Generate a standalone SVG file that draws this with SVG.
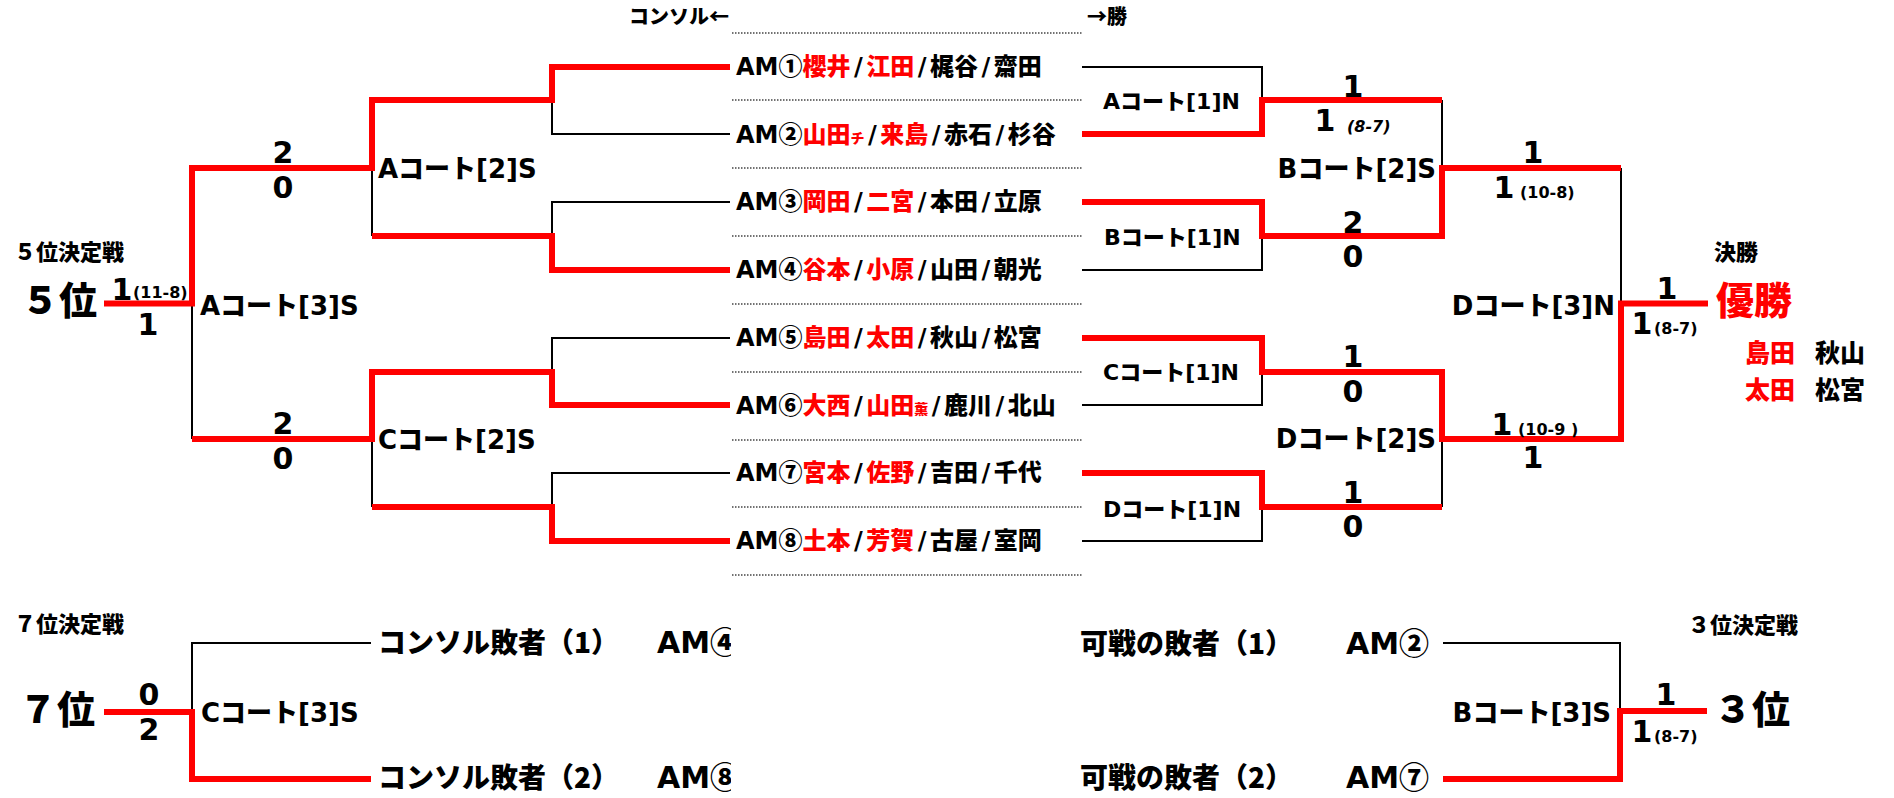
<svg xmlns="http://www.w3.org/2000/svg" width="1894" height="798" viewBox="0 0 1894 798">
<defs>
<style>
text{font-family:"DejaVu Sans","Noto Sans CJK JP",sans-serif;font-weight:900;fill:#000}
.j{font-family:"Noto Sans CJK JP",sans-serif}
.r{fill:#f00}
.lb{font-size:26px}
.ln{font-size:22px}
.sc{font-size:30px;text-anchor:middle}
.sm{font-size:16px}
.it{font-style:italic}
.am{font-size:24px}
.tiny{font-size:14px}
.hd{font-size:20px}
.ti{font-size:22px}
.big{font-size:38px}
.bt{font-size:28px}
.bt2{font-size:30px}
.nm{font-size:25px}
.end{text-anchor:end}
.rl{fill:none;stroke:#f00;stroke-width:6;stroke-linejoin:miter}
.bl{fill:none;stroke:#000;stroke-width:2}
.dt{fill:none;stroke:#444;stroke-width:1.5;stroke-dasharray:1.5 1.5}
</style>
<clipPath id="cl"><rect x="0" y="600" width="731" height="198"/></clipPath>
</defs>
<rect width="1894" height="798" fill="#fff"/>

<g id="connectors">
<g class="dt">
<path d="M732 33H1083M732 100H1083M732 168H1083M732 236H1083M732 304H1083M732 372H1083M732 440H1083M732 507H1083M732 575H1083"/>
</g>
<g class="bl">
<path d="M192 303.5V439"/>
<path d="M372 168V236"/>
<path d="M372 439V507"/>
<path d="M730 134H552V100"/>
<path d="M730 202H552V236"/>
<path d="M730 338H552V372"/>
<path d="M730 473H552V507"/>
<path d="M1082 67H1262V100"/>
<path d="M1082 270H1262V236"/>
<path d="M1442 100V168"/>
<path d="M1621 168V303.5"/>
<path d="M1082 405H1262V372"/>
<path d="M1082 541H1262V507"/>
<path d="M1442 439V507"/>
<path d="M192 712V643H371"/>
<path d="M1443 643H1620V711"/>
</g>
<g class="rl">
<path d="M104 303.5H192V168H372V100H552V67H730"/>
<path d="M372 236H552V270H730"/>
<path d="M192 439H372V372H552V405H730"/>
<path d="M372 507H552V541H730"/>
<path d="M1082 134H1262V100H1442"/>
<path d="M1082 202H1262V236H1442V168H1621"/>
<path d="M1082 338H1262V372H1442V439H1621V303.5H1708"/>
<path d="M1082 473H1262V507H1442"/>
<path d="M104 712H192V779H371"/>
<path d="M1443 779H1620V711H1707"/>
</g>
</g>

<g id="headers">
<text x="629" y="24" class="hd j">コンソル←</text>
<text x="1087" y="24" class="hd j">→勝</text>
</g>

<g id="am1"><text x="736" y="75" class="am">AM<tspan class="j">①</tspan><tspan class="r">櫻井</tspan><tspan dx="3.5">/</tspan><tspan dx="3.5" class="r">江田</tspan><tspan dx="3.5">/</tspan><tspan dx="3.5">梶谷</tspan><tspan dx="3.5">/</tspan><tspan dx="3.5">齋田</tspan></text></g>
<g id="am2"><text x="736" y="143" class="am">AM<tspan class="j">②</tspan><tspan class="r">山田</tspan><tspan class="r tiny">チ</tspan><tspan dx="3.5">/</tspan><tspan dx="3.5" class="r">来島</tspan><tspan dx="3.5">/</tspan><tspan dx="3.5">赤石</tspan><tspan dx="3.5">/</tspan><tspan dx="3.5">杉谷</tspan></text></g>
<g id="am3"><text x="736" y="210" class="am">AM<tspan class="j">③</tspan><tspan class="r">岡田</tspan><tspan dx="3.5">/</tspan><tspan dx="3.5" class="r">二宮</tspan><tspan dx="3.5">/</tspan><tspan dx="3.5">本田</tspan><tspan dx="3.5">/</tspan><tspan dx="3.5">立原</tspan></text></g>
<g id="am4"><text x="736" y="278" class="am">AM<tspan class="j">④</tspan><tspan class="r">谷本</tspan><tspan dx="3.5">/</tspan><tspan dx="3.5" class="r">小原</tspan><tspan dx="3.5">/</tspan><tspan dx="3.5">山田</tspan><tspan dx="3.5">/</tspan><tspan dx="3.5">朝光</tspan></text></g>
<g id="am5"><text x="736" y="346" class="am">AM<tspan class="j">⑤</tspan><tspan class="r">島田</tspan><tspan dx="3.5">/</tspan><tspan dx="3.5" class="r">太田</tspan><tspan dx="3.5">/</tspan><tspan dx="3.5">秋山</tspan><tspan dx="3.5">/</tspan><tspan dx="3.5">松宮</tspan></text></g>
<g id="am6"><text x="736" y="414" class="am">AM<tspan class="j">⑥</tspan><tspan class="r">大西</tspan><tspan dx="3.5">/</tspan><tspan dx="3.5" class="r">山田</tspan><tspan class="r tiny">薫</tspan><tspan dx="3.5">/</tspan><tspan dx="3.5">鹿川</tspan><tspan dx="3.5">/</tspan><tspan dx="3.5">北山</tspan></text></g>
<g id="am7"><text x="736" y="481" class="am">AM<tspan class="j">⑦</tspan><tspan class="r">宮本</tspan><tspan dx="3.5">/</tspan><tspan dx="3.5" class="r">佐野</tspan><tspan dx="3.5">/</tspan><tspan dx="3.5">吉田</tspan><tspan dx="3.5">/</tspan><tspan dx="3.5">千代</tspan></text></g>
<g id="am8"><text x="736" y="549" class="am">AM<tspan class="j">⑧</tspan><tspan class="r">土本</tspan><tspan dx="3.5">/</tspan><tspan dx="3.5" class="r">芳賀</tspan><tspan dx="3.5">/</tspan><tspan dx="3.5">古屋</tspan><tspan dx="3.5">/</tspan><tspan dx="3.5">室岡</tspan></text></g>

<g id="court-a3s"><text x="200" y="315" class="lb">Aコート[3]S</text></g>
<g id="court-a2s"><text x="378" y="178" class="lb">Aコート[2]S</text></g>
<g id="court-c2s"><text x="378" y="449" class="lb">Cコート[2]S</text></g>
<g id="court-a1n"><text x="1103" y="109" class="ln">Aコート[1]N</text></g>
<g id="court-b1n"><text x="1104" y="245" class="ln">Bコート[1]N</text></g>
<g id="court-c1n"><text x="1103" y="380" class="ln">Cコート[1]N</text></g>
<g id="court-d1n"><text x="1103" y="517" class="ln">Dコート[1]N</text></g>
<g id="court-b2s"><text x="1436" y="178" class="lb end">Bコート[2]S</text></g>
<g id="court-d2s"><text x="1436" y="448" class="lb end">Dコート[2]S</text></g>
<g id="court-d3n"><text x="1615" y="315" class="lb end">Dコート[3]N</text></g>
<g id="court-c3s"><text x="201" y="722" class="lb">Cコート[3]S</text></g>
<g id="court-b3s"><text x="1611" y="722" class="lb end">Bコート[3]S</text></g>

<g id="scores">
<text x="122" y="300" class="sc">1</text><text x="133" y="298" class="sm">(11-8)</text>
<text x="148" y="335" class="sc">1</text>
<text x="283" y="163" class="sc">2</text><text x="283" y="198" class="sc">0</text>
<text x="283" y="434" class="sc">2</text><text x="283" y="469" class="sc">0</text>
<text x="1353" y="97" class="sc">1</text>
<text x="1325" y="131" class="sc">1</text><text x="1347" y="132" class="sm it">(8-7)</text>
<text x="1353" y="233" class="sc">2</text><text x="1353" y="267" class="sc">0</text>
<text x="1353" y="367" class="sc">1</text><text x="1353" y="402" class="sc">0</text>
<text x="1353" y="503" class="sc">1</text><text x="1353" y="537" class="sc">0</text>
<text x="1533" y="163" class="sc">1</text>
<text x="1504" y="198" class="sc">1</text><text x="1520" y="198" class="sm">(10-8)</text>
<text x="1502" y="435" class="sc">1</text><text x="1518" y="435" class="sm">(10-9 )</text>
<text x="1533" y="468" class="sc">1</text>
<text x="1667" y="299" class="sc">1</text>
<text x="1642" y="334" class="sc">1</text><text x="1654" y="334" class="sm">(8-7)</text>
<text x="149" y="705" class="sc">0</text><text x="149" y="740" class="sc">2</text>
<text x="1666" y="705" class="sc">1</text>
<text x="1642" y="742" class="sc">1</text><text x="1654" y="742" class="sm">(8-7)</text>
</g>

<g id="place5">
<text x="14" y="260" class="ti j">５位決定戦</text>
<text x="21" y="314" class="big j">５位</text>
</g>
<g id="final">
<text x="1714" y="260" class="ti j">決勝</text>
<text x="1716" y="314" class="big j r">優勝</text>
<text x="1745" y="362" class="nm j"><tspan class="r">島田</tspan><tspan x="1815">秋山</tspan></text>
<text x="1745" y="399" class="nm j"><tspan class="r">太田</tspan><tspan x="1815">松宮</tspan></text>
</g>
<g id="place7">
<text x="14" y="632" class="ti j">７位決定戦</text>
<text x="19" y="723" class="big j">７位</text>
</g>
<g id="place3">
<text x="1688" y="633" class="ti j">３位決定戦</text>
<text x="1714" y="723" class="big j">３位</text>
</g>
<g id="consol-losers" clip-path="url(#cl)">
<text x="378" y="653" class="bt j">コンソル敗者（1）</text><text x="657" y="653" class="bt2">AM<tspan class="j">④</tspan></text>
<text x="378" y="788" class="bt j">コンソル敗者（2）</text><text x="657" y="788" class="bt2">AM<tspan class="j">⑧</tspan></text>
</g>
<g id="round-losers">
<text x="1080" y="654" class="bt j">可戦の敗者（1）</text><text x="1346" y="654" class="bt2">AM<tspan class="j">②</tspan></text>
<text x="1080" y="788" class="bt j">可戦の敗者（2）</text><text x="1346" y="788" class="bt2">AM<tspan class="j">⑦</tspan></text>
</g>
</svg>
